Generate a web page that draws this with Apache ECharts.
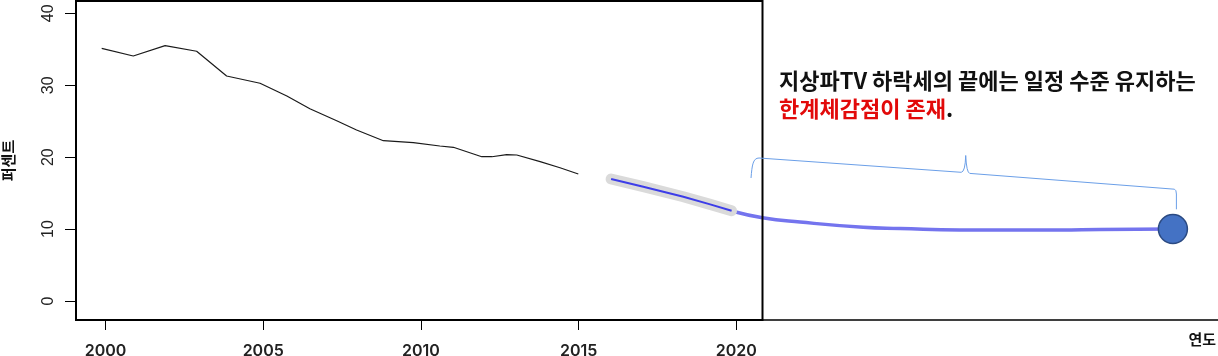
<!DOCTYPE html>
<html>
<head>
<meta charset="utf-8">
<script src="https://cdn.jsdelivr.net/npm/echarts@6/dist/echarts.min.js"></script>
<style>
html,body{margin:0;padding:0;background:#fff;}
#chart{width:1218px;height:356px;}
</style>
</head>
<body>
<div id="chart"></div>
<script>
// ---- data ----
var historyYears  = [1999.88, 2000.88, 2001.89, 2002.89, 2003.84, 2004.90, 2005.75, 2006.48, 2007.33, 2007.96, 2008.81, 2009.76, 2010.60, 2011.03, 2011.93, 2012.25, 2012.72, 2013.04, 2013.78, 2014.41, 2014.99];
var historyValues = [35.13, 34.06, 35.50, 34.72, 31.28, 30.27, 28.50, 26.74, 25.07, 23.77, 22.29, 22.01, 21.55, 21.37, 20.06, 20.06, 20.34, 20.30, 19.37, 18.53, 17.66];

var recentYears  = [2016.03, 2017.05, 2018.32, 2019.17, 2019.85];
var recentValues = [16.96, 15.89, 14.50, 13.44, 12.55];

var trendYears  = [2019.85, 2020.83, 2022.02, 2024.02, 2025.19, 2027.09, 2030.26, 2031.53, 2033.84];
var trendValues = [12.51, 11.58, 10.98, 10.25, 10.08, 9.87, 9.87, 9.94, 10.0];

var floorYear = 2033.84;
var floorValue = 10.0;

var xTicks = [2000, 2005, 2010, 2015, 2020];
var yTicks = [0, 10, 20, 30, 40];

var xName = '연도';
var yName = '퍼센트';
var noteLine1 = '지상파TV 하락세의 끝에는 일정 수준 유지하는';
var noteLine2Red = '한계체감점이 존재';

// ---- scale extents ----
var xMin = 1999.065, xBoxMax = 2020.83, xFullMax = 2035.27;
var yMin = -2.64, yMax = 41.71;

function pairs(xs, ys) { return xs.map(function (x, i) { return [x, ys[i]]; }); }

var chart = echarts.init(document.getElementById('chart'), null, {renderer: 'canvas'});

var option = {
  animation: false,
  backgroundColor: '#fff',
  title: {
    left: 779, top: 67, padding: 0,
    text: noteLine1 + '\n{r|' + noteLine2Red + '}.',
    textStyle: {
      fontFamily: 'Noto Sans CJK KR', fontWeight: 'bold', fontSize: 22, lineHeight: 28, color: '#111',
      rich: { r: { fontFamily: 'Noto Sans CJK KR', fontWeight: 'bold', fontSize: 22, lineHeight: 28, color: '#e20a0a' } }
    }
  },
  grid: [
    { left: 76, top: 1, width: 686.5, height: 319, show: true, borderColor: '#000', borderWidth: 2, backgroundColor: 'transparent', z: 10, containLabel: false, outerBoundsMode: 'none' },
    { left: 76, top: 1, right: 0, height: 319, containLabel: false, outerBoundsMode: 'none' }
  ],
  xAxis: [
    {
      gridIndex: 0, type: 'value', min: xMin, max: xBoxMax,
      axisLine: { show: false, onZero: false },
      splitLine: { show: false },
      axisTick: { show: true, customValues: xTicks, length: 10, lineStyle: { color: '#000', width: 1 } },
      axisLabel: { show: true, customValues: xTicks, margin: 23, fontFamily: 'Inter', fontWeight: 600, fontSize: 16, color: '#222',
        formatter: function (v) { return String(v); } }
    },
    {
      gridIndex: 1, type: 'value', min: xMin, max: xFullMax,
      axisLine: { show: true, onZero: false, lineStyle: { color: '#000', width: 1.5 } },
      splitLine: { show: false }, axisTick: { show: false }, axisLabel: { show: false },
      name: xName, nameLocation: 'end', nameGap: -2,
      nameTextStyle: { fontFamily: 'Noto Sans CJK KR', fontWeight: 'bold', fontSize: 15, color: '#111', align: 'right', verticalAlign: 'top', padding: [12, 0, 0, 0] }
    }
  ],
  yAxis: [
    {
      gridIndex: 0, type: 'value', min: yMin, max: yMax,
      axisLine: { show: false, onZero: false }, splitLine: { show: false },
      axisTick: { show: true, customValues: yTicks, length: 11, lineStyle: { color: '#000', width: 1 } },
      axisLabel: { show: true, customValues: yTicks, rotate: 90, margin: 19, fontFamily: 'Liberation Sans', fontSize: 16, color: '#222' },
      name: yName, nameLocation: 'middle', nameRotate: 90, nameGap: 60,
      nameTextStyle: { fontFamily: 'Noto Sans CJK KR', fontWeight: 'bold', fontSize: 15, color: '#111' }
    },
    { gridIndex: 1, type: 'value', min: yMin, max: yMax, show: false }
  ],
  series: [
    {
      type: 'line', xAxisIndex: 0, yAxisIndex: 0, data: pairs(historyYears, historyValues),
      symbol: 'none', lineStyle: { color: '#1a1a1a', width: 1.2 }, z: 3
    },
    {
      type: 'line', xAxisIndex: 1, yAxisIndex: 1, data: pairs(recentYears, recentValues),
      symbol: 'none', lineStyle: { color: '#dadada', width: 11, cap: 'round', join: 'round' }, z: 2
    },
    {
      type: 'line', xAxisIndex: 1, yAxisIndex: 1, data: pairs(trendYears, trendValues),
      symbol: 'none', smooth: 0.5, lineStyle: { color: '#7474ee', width: 3.5 }, z: 1
    },
    {
      type: 'line', xAxisIndex: 1, yAxisIndex: 1, data: pairs(recentYears, recentValues),
      symbol: 'none', lineStyle: { color: '#3d3de8', width: 2 }, z: 4
    },
    {
      type: 'scatter', xAxisIndex: 1, yAxisIndex: 1, data: [[floorYear, floorValue]],
      symbolSize: 29, itemStyle: { color: '#4472c4', borderColor: '#2b4a82', borderWidth: 1.5, opacity: 1 }, z: 5
    }
  ]
};
chart.setOption(option);

// brace annotation (thin blue), anchored to the plot's right edge and the floor point
var pR = chart.convertToPixel({ xAxisIndex: 1, yAxisIndex: 1 }, [xBoxMax, floorValue]);
var pD = chart.convertToPixel({ xAxisIndex: 1, yAxisIndex: 1 }, [floorYear, floorValue]);
var x0 = pR[0] - 11.5, x1 = pD[0] + 3.5, xm = (x0 + x1) / 2 + 2;
var braceStyle = { fill: null, stroke: '#6b9fe8', lineWidth: 1 };
chart.setOption({
  graphic: [
    { type: 'bezierCurve', z: 20, style: braceStyle,
      shape: { x1: x0, y1: 178, cpx1: x0 + 1, cpy1: 165, cpx2: x0 + 2, cpy2: 158, x2: x0 + 8, y2: 158 } },
    { type: 'line', z: 20, style: braceStyle,
      shape: { x1: x0 + 8, y1: 158, x2: xm - 4.5, y2: 172.3 } },
    { type: 'bezierCurve', z: 20, style: braceStyle,
      shape: { x1: xm - 4.5, y1: 172.3, cpx1: xm - 0.5, cpy1: 172, x2: xm, y2: 155.5 } },
    { type: 'bezierCurve', z: 20, style: braceStyle,
      shape: { x1: xm, y1: 155.5, cpx1: xm + 0.8, cpy1: 172.5, x2: xm + 4, y2: 173.4 } },
    { type: 'line', z: 20, style: braceStyle,
      shape: { x1: xm + 4, y1: 173.4, x2: x1 - 2, y2: 189.2 } },
    { type: 'bezierCurve', z: 20, style: braceStyle,
      shape: { x1: x1 - 2, y1: 189.2, cpx1: x1, cpy1: 189.8, x2: x1, y2: 194 } },
    { type: 'line', z: 20, style: braceStyle,
      shape: { x1: x1, y1: 194, x2: x1, y2: 209.3 } }
  ]
});
</script>
</body>
</html>
